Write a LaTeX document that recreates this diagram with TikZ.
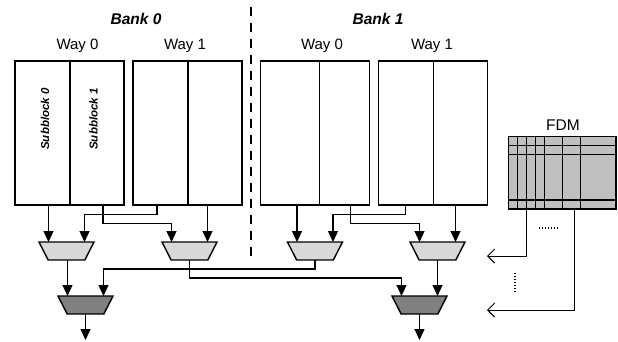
\documentclass[tikz,border=0pt]{standalone}
\usepackage{fontspec}
\setmainfont{Liberation Sans}
\usetikzlibrary{arrows.meta, shapes.geometric}

\begin{document}
\begin{tikzpicture}[x=1pt, y=-1pt,
  sub/.style={draw, line width=1.2pt, minimum height=144pt, inner sep=0pt},
  mux/.style={draw, line width=1.4pt, trapezium, trapezium angle=76, shape border rotate=180,
    trapezium stretches=true, minimum width=55pt, minimum height=18pt, inner sep=1pt},
  arr/.style={line width=1.2pt, -{Triangle[width=10pt,length=11pt]}},
  oarr/.style={line width=1pt, -{Straight Barb[width=14pt,length=7pt]}},
  way/.style={font=\fontsize{15}{17}\selectfont, anchor=base},
  bank/.style={font=\fontsize{15.5}{17}\selectfont\bfseries\itshape, anchor=base},
  sblk/.style={font=\fontsize{11.5}{13}\selectfont\bfseries\itshape, rotate=90, inner sep=0pt}]
\useasboundingbox (0,0) rectangle (618,341);

% banks and ways
\node[bank] (bk0) at (136,24) {Bank 0};
\node[bank] (bk1) at (378,24) {Bank 1};
\node[way] (w00) at (77.5,49.5) {Way 0};
\node[way] (w01) at (185,49.5) {Way 1};
\node[way] (w10) at (322,49.5) {Way 0};
\node[way] (w11) at (432,49.5) {Way 1};
\draw[line width=1.2pt, dash pattern=on 9pt off 7pt] (251,7) -- (251,260);

% subblocks
\node[sub, minimum width=55pt] (b0w0s0) at (42.5,133) {};
\node[sub, minimum width=54pt] (b0w0s1) at (97,133) {};
\node[sub, minimum width=55pt] (b0w1s0) at (160.5,133) {};
\node[sub, minimum width=54pt] (b0w1s1) at (215,133) {};
\node[sub, minimum width=58.6pt] (b1w0s0) at (290,133) {};
\node[sub, minimum width=50pt] (b1w0s1) at (344.3,133) {};
\node[sub, minimum width=55pt] (b1w1s0) at (405.8,133) {};
\node[sub, minimum width=54.4pt] (b1w1s1) at (460.5,133) {};
\node[sblk] (sb0) at (45,119) {Subblock 0};
\node[sblk] (sb1) at (93.5,119) {Subblock 1};

% muxes
\node[mux, fill=black!15] (m00) at (66.5,251) {};
\node[mux, fill=black!15] (m01) at (189.5,251) {};
\node[mux, fill=black!15] (m10) at (315,251) {};
\node[mux, fill=black!15] (m11) at (437.5,251) {};
\node[mux, fill=black!50] (d0) at (85.5,305) {};
\node[mux, fill=black!50] (d1) at (419.5,305) {};
\foreach \m in {m00,m01,m10,m11,d0,d1} {
  \coordinate (\m-a) at ([xshift=-18pt, yshift=9pt]\m.center);
  \coordinate (\m-b) at ([xshift=18pt, yshift=9pt]\m.center);
  \coordinate (\m-o) at ([yshift=-9pt]\m.center);
}

% bank 0 wires
\draw[arr] (m00-a |- b0w0s0.south) -- (m00-a);
\draw[arr] ([xshift=-3.5pt]b0w1s0.south) -- ++(0,9) -| (m00-b);
\draw[arr] ([xshift=6pt]b0w0s1.south) -- ++(0,18) -| (m01-a);
\draw[arr] (m01-b |- b0w1s1.south) -- (m01-b);
% bank 1 wires
\draw[arr] (m10-a |- b1w0s0.south) -- (m10-a);
\draw[arr] (b1w1s0.south) -- ++(0,9) -| (m10-b);
\draw[arr] ([xshift=6.5pt]b1w0s1.south) -- ++(0,18) -| (m11-a);
\draw[arr] (m11-b |- b1w1s1.south) -- (m11-b);
% second level
\draw[arr] (d0-a |- m00-o) -- (d0-a);
\draw[arr] (m01-o) -- ++(0,18) -| (d1-a);
\draw[arr] (m10-o) -- ++(0,9) -| (d0-b);
\draw[arr] (d1-b |- m11-o) -- (d1-b);
\draw[arr] (d0-o) -- ++(0,26);
\draw[arr] (d1-o) -- ++(0,26);

% FDM
\node[font=\fontsize{15.5}{17}\selectfont, anchor=base] (fdmlbl) at (563,130) {FDM};
\node[draw, fill=black!25, line width=1.2pt, minimum width=107.7pt, minimum height=72.3pt, inner sep=0pt] (fdm) at (562.2,172.85) {};
\foreach \x in {517.3,526.7,535.7,544.7,562.7,580.7}
  \draw[line width=1.2pt] (\x,136.7) -- (\x,209);
\foreach \y in {145.7,154.3,200}
  \draw[line width=1.2pt] (508.3,\y) -- (616,\y);
\coordinate (in0) at (487,256);
\coordinate (in1) at (487,310);
\draw[oarr] ([xshift=-36pt]fdm.south) |- (in0);
\draw[oarr] ([xshift=12pt]fdm.south) |- (in1);
\draw[line width=1.2pt, dash pattern=on 1.2pt off 1.8pt] (539,228) -- (559,228);
\draw[line width=1.2pt, dash pattern=on 1.2pt off 1.8pt] (515,273) -- (515,293);

\end{tikzpicture}
\end{document}
